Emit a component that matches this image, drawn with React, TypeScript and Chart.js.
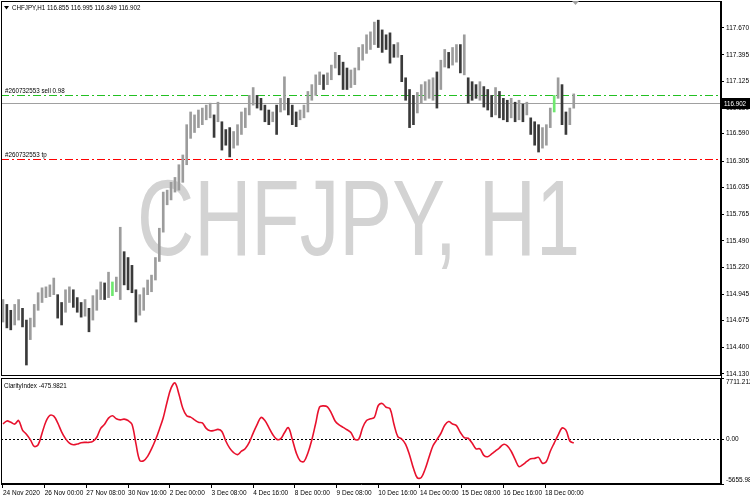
import React, { useEffect, useRef } from "react";
import { Chart, registerables } from "chart.js";

Chart.register(...registerables);

const headerText = "CHFJPY,H1 116.855 116.995 116.849 116.902";
const watermarkText = "CHFJPY, H1";
const barStepHours = 3;

const barHighs = [
  114.89, 114.84, 114.78, 114.84, 114.89, 114.80, 114.68, 114.70, 114.84, 114.96,
  115.01, 115.02, 115.04, 115.11, 114.94, 114.86, 114.99, 115.02, 114.99, 114.91,
  114.86, 114.89, 114.80, 114.93, 114.99, 115.07, 115.06, 115.17, 115.07, 115.12,
  115.63, 115.38, 115.32, 115.24, 114.99, 114.94, 115.01, 115.09, 115.14, 115.32,
  115.62, 115.99, 116.01, 116.09, 116.14, 116.27, 116.37, 116.68, 116.81, 116.78,
  116.83, 116.85, 116.88, 116.90, 116.78, 116.91, 116.71, 116.63, 116.65, 116.61,
  116.68, 116.81, 116.85, 116.98, 117.06, 116.98, 116.95, 116.88, 116.83, 116.81,
  116.88, 116.95, 117.17, 116.95, 116.88, 116.81, 116.83, 116.88, 117.02, 117.09,
  117.19, 117.22, 117.19, 117.21, 117.29, 117.42, 117.39, 117.32, 117.26, 117.24,
  117.26, 117.47, 117.50, 117.60, 117.63, 117.73, 117.75, 117.65, 117.60, 117.62,
  117.50, 117.52, 117.39, 117.16, 117.04, 116.98, 117.01, 117.09, 117.12, 117.14,
  117.16, 117.22, 117.34, 117.45, 117.42, 117.47, 117.50, 117.50, 117.60, 117.16,
  117.12, 117.09, 117.12, 117.07, 117.04, 116.98, 117.06, 117.02, 116.95, 116.93,
  116.95, 116.91, 116.93, 116.89, 116.91, 116.75, 116.71, 116.68, 116.65, 116.68,
  116.85, 116.98, 117.16, 117.09, 116.81, 116.85, 116.995,
];

const barLows = [
  114.66, 114.60, 114.58, 114.63, 114.68, 114.61, 114.22, 114.48, 114.61, 114.78,
  114.86, 114.91, 114.92, 114.94, 114.70, 114.63, 114.76, 114.86, 114.81, 114.76,
  114.71, 114.72, 114.56, 114.68, 114.78, 114.89, 114.89, 114.91, 114.93, 114.97,
  114.89, 115.04, 114.99, 114.96, 114.66, 114.73, 114.78, 114.94, 114.97, 115.09,
  115.28, 115.58, 115.86, 115.91, 115.99, 116.01, 116.09, 116.27, 116.54, 116.60,
  116.65, 116.68, 116.73, 116.75, 116.55, 116.71, 116.42, 116.47, 116.35, 116.44,
  116.47, 116.58, 116.65, 116.78, 116.88, 116.85, 116.83, 116.71, 116.68, 116.71,
  116.58, 116.81, 116.83, 116.78, 116.68, 116.66, 116.73, 116.75, 116.81, 116.93,
  116.98, 117.09, 117.04, 117.09, 117.14, 117.26, 117.19, 117.04, 117.04, 117.06,
  117.09, 117.24, 117.34, 117.41, 117.45, 117.50, 117.47, 117.42, 117.45, 117.31,
  117.37, 117.37, 117.12, 116.93, 116.65, 116.68, 116.80, 116.90, 116.93, 116.95,
  116.93, 116.85, 117.04, 117.27, 117.26, 117.29, 117.32, 117.21, 117.19, 116.90,
  116.93, 116.95, 116.93, 116.86, 116.83, 116.76, 116.78, 116.75, 116.73, 116.71,
  116.75, 116.71, 116.73, 116.71, 116.78, 116.58, 116.47, 116.40, 116.44, 116.47,
  116.65, 116.81, 116.95, 116.68, 116.58, 116.68, 116.849,
];

const clarityValues = [
  1918, 2300, 2134, 1900, 2349, 1144, 627, -60, -920, -707,
  757, 2220, 2995, 2900, 2048, 930, 70, -490, -707, -620,
  -449, -406, -406, -277, 240, 1360, 1875, 2650, 2950, 2564,
  2435, 2521, 2349, 1875, -535, -2687, -2730, -2170, -1224, -104,
  1230, 2693, 4716, 6438, 7083, 5706, 3898, 2950, 2779, 2435,
  2134, 2048, 1360, 1058, 1100, 1230, 972, -234, -1137, -1697,
  -1955, -1525, -1180, -406, 757, 1832, 2736, 2349, 1488, 584,
  -18, 25, 800, 1445, -18, -1697, -2730, -2816, -1740, -104,
  2004, 4070, 4200, 4070, 3296, 2263, 1789, 1488, 1187, 843,
  -18, -18, 1445, 2349, 2564, 2736, 4243, 4500, 4027, 3855,
  1918, 326, 25, -664, -2000, -3677, -4882, -4840, -3763, -2257,
  -836, -61, 713, 1746, 2220, 1918, 1703, 843, 197, 111,
  -492, -1224, -1224, -2041, -2213, -1869, -1482, -1094, -664, -836,
  -1525, -2558, -3461, -3203, -2816, -2472, -2429, -2300, -3031, -2816,
  -1525, -492, 498, 1402, 1144, -234, -475.98,
];

const greenBarIndices = [28, 141];

const priceTicks = [117.67, 117.395, 117.125, 116.85, 116.59, 116.305, 116.035, 115.765, 115.49, 115.22, 114.945, 114.675, 114.4, 114.13];
const indicatorTicks = [7711.2123, 0, -5655.981];
const indicatorTickLabels = ["7711.2123", "0.00", "-5655.981"];
const timeTickHours = [0, 32, 64, 96, 128, 160, 192, 224, 256, 288, 320, 352, 384, 416];
const timeTickLabels = [
  "24 Nov 2020", "26 Nov 00:00", "27 Nov 08:00", "30 Nov 16:00", "2 Dec 00:00", "3 Dec 08:00", "4 Dec 16:00",
  "8 Dec 00:00", "9 Dec 08:00", "10 Dec 16:00", "14 Dec 00:00", "15 Dec 08:00", "16 Dec 16:00", "18 Dec 00:00",
];

const bidPrice = 116.902;
const sellOpenPrice = 116.98;
const takeProfitPrice = 116.33;
const sellLabel = "#260732553 sell 0.98";
const tpLabel = "#260732553 tp";
const indicatorName = "ClarityIndex -475.9821";
const priceMin = 114.087;
const priceMax = 117.946;
const indMin = -5655.981;
const indMax = 7711.2123;
const xMin = -1.5;
const xMax = 551;

const FONT = '"Liberation Sans", Arial, sans-serif';
const TICK_SIZE = 6.5;

function squeezedText(ctx: any, text: string, x: number, y: number, sx: number) {
  ctx.save();
  ctx.translate(x, y);
  ctx.scale(sx, 1);
  ctx.fillText(text, 0, 0);
  ctx.restore();
}

function patternLine(ctx: any, x0: number, x1: number, y: number, pattern: number[], color: string) {
  const yy = Math.round(y);
  ctx.fillStyle = color;
  let x = x0;
  let k = 0;
  while (x < x1) {
    const len = pattern[k % pattern.length];
    if (k % 2 === 0) ctx.fillRect(x, yy, Math.min(len, x1 - x), 1);
    x += len;
    k++;
  }
}

const mtPlugin = {
  id: "mtDecor",
  beforeDatasetsDraw(chart: any) {
    const { ctx, chartArea } = chart;
    const ys = chart.scales.y;
    const y2 = chart.scales.y2;
    const left = chartArea.left;
    const right = chartArea.right;
    const mainTop = ys.top;
    const mainBottom = ys.bottom - 2.5;

    // watermark
    ctx.save();
    ctx.beginPath();
    ctx.rect(left, mainTop, right - left, mainBottom - mainTop);
    ctx.clip();
    ctx.fillStyle = "#d3d3d3";
    ctx.font = "107px " + FONT;
    const w = ctx.measureText(watermarkText).width;
    const sx = 443 / w;
    ctx.translate((left + right) / 2 - 2.5, 255);
    ctx.scale(sx, 1);
    ctx.textAlign = "center";
    ctx.textBaseline = "alphabetic";
    ctx.fillText(watermarkText, 0, 0);
    ctx.restore();

    // horizontal price lines
    ctx.save();
    patternLine(ctx, left, right, ys.getPixelForValue(bidPrice), [10000, 0], "#a0a0a0");
    patternLine(ctx, left, right, ys.getPixelForValue(sellOpenPrice), [8, 3, 2, 3], "#22c022");
    patternLine(ctx, left, right, ys.getPixelForValue(takeProfitPrice), [8, 3, 2, 3], "#ff0000");
    // zero level in indicator pane
    patternLine(ctx, left, right, y2.getPixelForValue(0), [2, 2], "#000000");
    ctx.restore();
  },
  afterDraw(chart: any) {
    const { ctx, chartArea } = chart;
    const ys = chart.scales.y;
    const y2 = chart.scales.y2;
    const left = chartArea.left;
    const right = chartArea.right;
    ctx.save();
    ctx.font = "8px " + FONT;
    ctx.fillStyle = "#000";
    ctx.textBaseline = "middle";
    ctx.textAlign = "left";
    const sq = 0.78;

    // header
    ctx.beginPath();
    ctx.moveTo(4, 6);
    ctx.lineTo(9, 6);
    ctx.lineTo(6.5, 9.5);
    ctx.closePath();
    ctx.fill();
    squeezedText(ctx, headerText, 12, 8, sq);

    // order labels
    squeezedText(ctx, sellLabel, 5, ys.getPixelForValue(sellOpenPrice) - 5, sq);
    squeezedText(ctx, tpLabel, 5, ys.getPixelForValue(takeProfitPrice) - 4, sq);

    // indicator label
    squeezedText(ctx, indicatorName, 4, y2.top + 8, sq);

    // price box
    const by = Math.round(ys.getPixelForValue(bidPrice));
    ctx.fillStyle = "#000";
    ctx.fillRect(right + 1, by - 5, 750 - right - 1, 11);
    ctx.fillStyle = "#fff";
    squeezedText(ctx, bidPrice.toFixed(3), right + 3, by + 0.5, sq);

    // pane frames
    ctx.strokeStyle = "#000";
    ctx.lineWidth = 1;
    ctx.strokeRect(left + 0.5, ys.top + 0.5, right - left - 1, Math.round(ys.bottom - 2.5 - ys.top) - 1);
    ctx.strokeRect(left + 0.5, y2.top + 0.5, right - left - 1, Math.round(y2.bottom - y2.top) - 1);

    // shift marker
    ctx.fillStyle = "#a0a0a0";
    ctx.beginPath();
    ctx.moveTo(572, 1);
    ctx.lineTo(579, 1);
    ctx.lineTo(575.5, 5);
    ctx.closePath();
    ctx.fill();
    ctx.restore();
  },
};

export default function App() {
  const canvasRef = useRef<HTMLCanvasElement | null>(null);

  useEffect(() => {
    document.body.style.margin = "0";
    const canvas = canvasRef.current;
    if (!canvas) return;
    const mids = barHighs.map((h, i) => (h + barLows[i]) / 2);
    const barColors = barHighs.map((_, i) =>
      greenBarIndices.includes(i) ? "#6fe86f" : i > 0 && mids[i] < mids[i - 1] ? "#3a3a3a" : "#9c9c9c"
    );
    const barData = barHighs.map((h, i) => ({ x: i * barStepHours, y: [barLows[i], h] }));
    const lineData = clarityValues.map((v, i) => ({ x: i * barStepHours, y: v }));

    const noPadV = (s: any) => {
      s.width = 29;
      s.paddingTop = 0;
      s.paddingBottom = 0;
    };

    const chart = new Chart(canvas, {
      type: "bar",
      data: {
        datasets: [
          {
            type: "bar",
            data: barData as any,
            backgroundColor: barColors,
            borderWidth: 0,
            barThickness: 2,
            grouped: false,
            xAxisID: "x",
            yAxisID: "y",
          } as any,
          {
            type: "line",
            data: lineData as any,
            borderColor: "#e8112d",
            borderWidth: 1.6,
            pointRadius: 0,
            tension: 0.35,
            fill: false,
            xAxisID: "x",
            yAxisID: "y2",
          } as any,
        ],
      },
      options: {
        animation: false,
        responsive: false,
        devicePixelRatio: 1,
        events: [],
        layout: { padding: { left: 1, top: 1, right: 0, bottom: 0 } },
        plugins: { legend: { display: false }, tooltip: { enabled: false } },
        scales: {
          x: {
            type: "linear",
            offset: false,
            min: xMin,
            max: xMax,
            grid: { display: true, offset: false, drawOnChartArea: false, drawTicks: true, tickLength: 4, color: "#000" },
            border: { display: true, color: "#000" },
            ticks: {
              autoSkip: false,
              maxRotation: 0,
              minRotation: 0,
              align: "start",
              padding: 1,
              color: "#000",
              font: { size: TICK_SIZE, family: FONT },
              callback: (_v: any, i: number) => timeTickLabels[i],
            },
            afterBuildTicks: (s: any) => {
              s.ticks = timeTickHours.map((v) => ({ value: v }));
            },
            afterFit: (s: any) => {
              s.height = 16;
              s.paddingLeft = 0;
              s.paddingRight = 0;
            },
          },
          y: {
            type: "linear",
            position: "right",
            stack: "panes",
            stackWeight: 377,
            min: priceMin,
            max: priceMax,
            grid: { display: true, drawOnChartArea: false, drawTicks: true, tickLength: 3, color: "#000" },
            border: { display: true, color: "#000" },
            ticks: {
              autoSkip: false,
              padding: 2,
              crossAlign: "near",
              color: "#000",
              font: { size: TICK_SIZE, family: FONT },
              callback: (v: any) => Number(v).toFixed(3),
            },
            afterBuildTicks: (s: any) => {
              s.ticks = priceTicks.map((v) => ({ value: v }));
            },
            afterFit: noPadV,
          },
          y2: {
            type: "linear",
            position: "right",
            stack: "panes",
            stackWeight: 106,
            min: indMin,
            max: indMax,
            grid: { display: true, drawOnChartArea: false, drawTicks: true, tickLength: 3, color: "#000" },
            border: { display: true, color: "#000" },
            ticks: {
              autoSkip: false,
              padding: 2,
              crossAlign: "near",
              color: "#000",
              font: { size: TICK_SIZE, family: FONT },
              callback: (_v: any, i: number) =>
                i === 0 ? ["", indicatorTickLabels[i]] : i === indicatorTicks.length - 1 ? [indicatorTickLabels[i], ""] : indicatorTickLabels[i],
            },
            afterBuildTicks: (s: any) => {
              s.ticks = indicatorTicks.map((v) => ({ value: v }));
            },
            afterFit: noPadV,
          },
        },
      } as any,
      plugins: [mtPlugin],
    });
    return () => chart.destroy();
  }, []);

  return (
    <div style={{ position: "absolute", left: 0, top: 0, width: 750, height: 500, background: "#fff" }}>
      <canvas ref={canvasRef} width={750} height={500} style={{ width: 750, height: 500, display: "block" }} />
    </div>
  );
}
